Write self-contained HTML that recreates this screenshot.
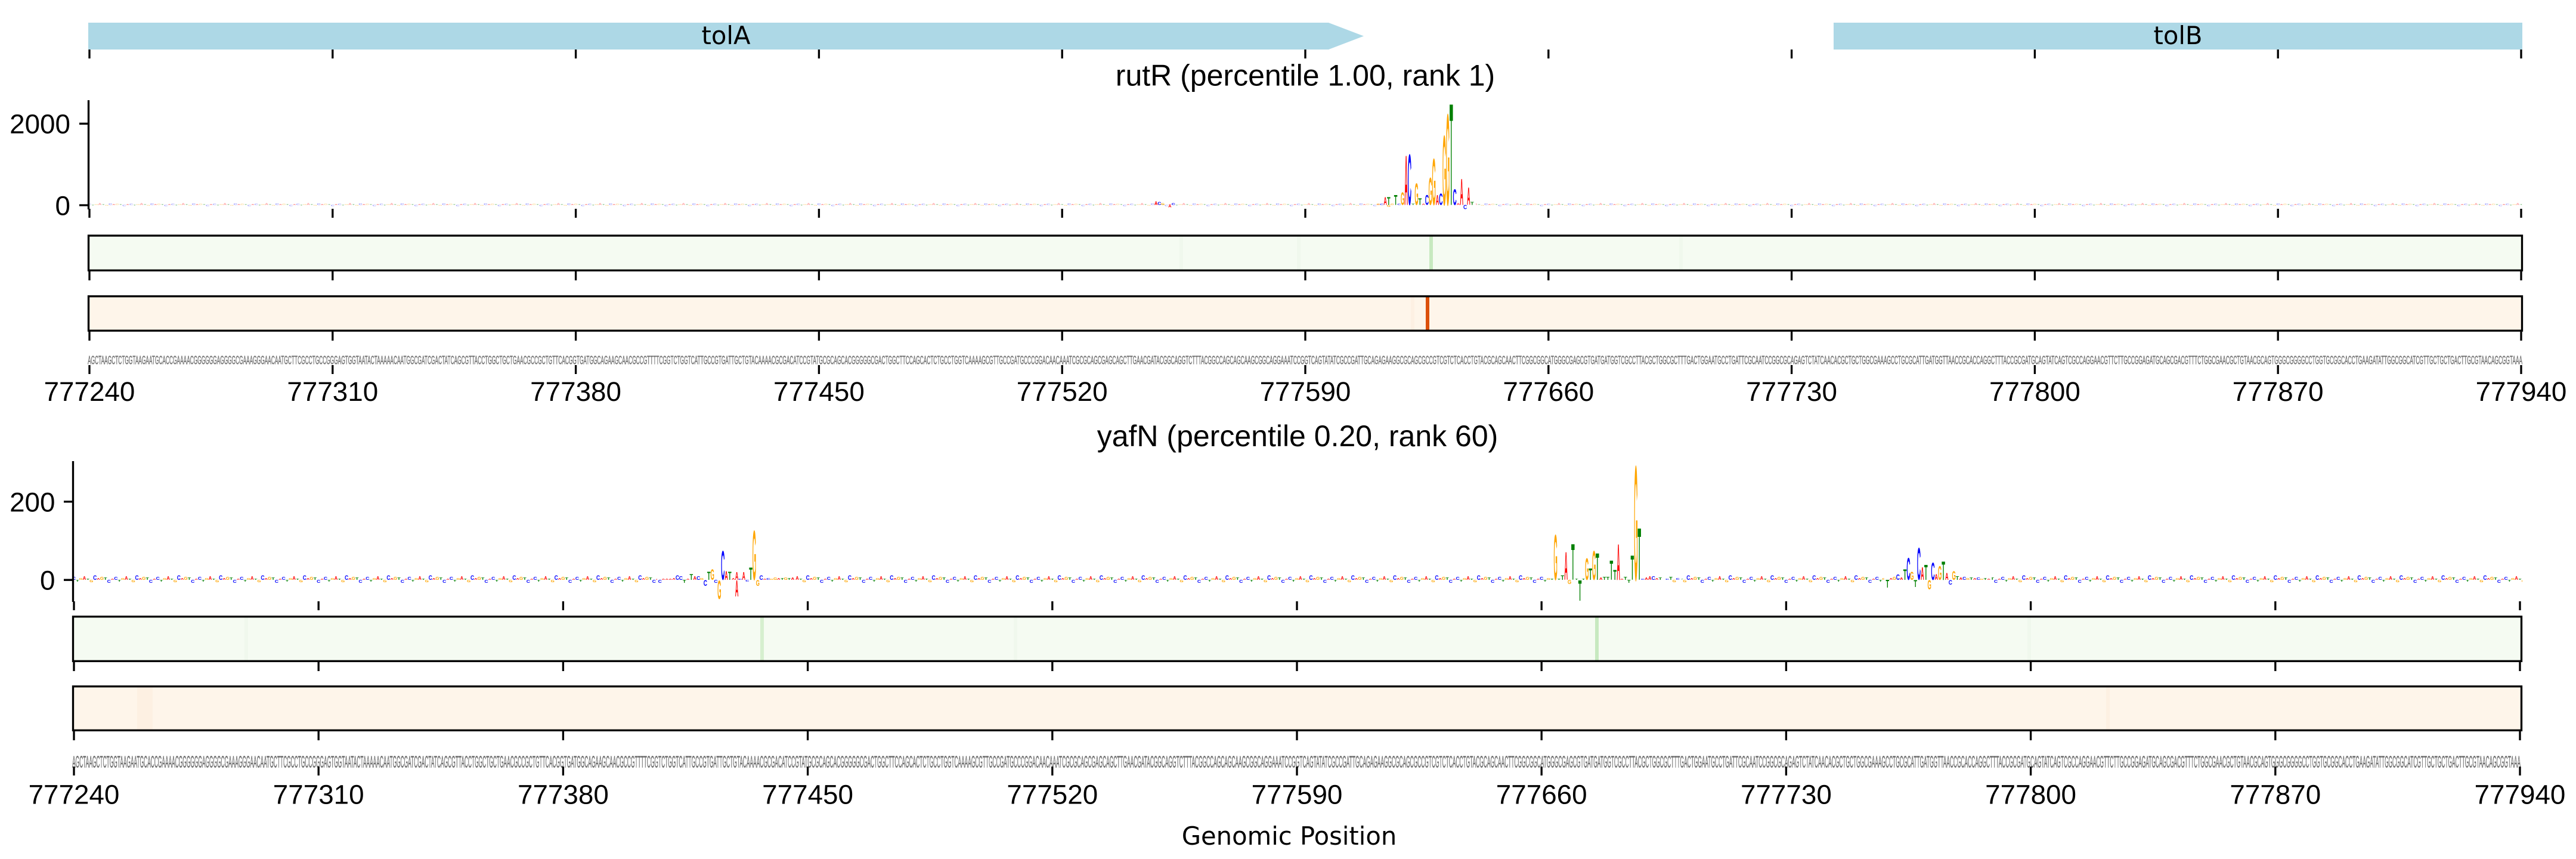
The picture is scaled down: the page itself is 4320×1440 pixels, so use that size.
<!DOCTYPE html>
<html><head><meta charset="utf-8"><style>
html,body{margin:0;padding:0;background:#fff;}
svg{display:block;}
.a{fill:#ff0000}.c{fill:#0000ff}.g{fill:#ffa500}.t{fill:#008000}
</style></head><body>
<svg width="4320" height="1440" viewBox="0 0 4320 1440" xmlns="http://www.w3.org/2000/svg">
<defs>
<pattern id="p1" patternUnits="userSpaceOnUse" x="147.09" y="333.5" width="69.912" height="20">
<g font-family="'Liberation Sans', Arial, sans-serif" font-weight="bold" font-size="100" text-anchor="middle" opacity="0.5">
<text class="c" transform="matrix(.086 0 0 .028 2.913 10)">C</text>
<text class="t" transform="matrix(.093 0 0 .014 8.739 11)">T</text>
<text class="g" transform="matrix(.081 0 0 .021 14.565 10)">G</text>
<text class="a" transform="matrix(.076 0 0 .042 20.391 10)">A</text>
<text class="t" transform="matrix(.093 0 0 .014 26.217 10)">T</text>
<text class="g" transform="matrix(.081 0 0 .021 32.043 11.5)">G</text>
<text class="c" transform="matrix(.086 0 0 .035 37.869 10)">C</text>
<text class="a" transform="matrix(.076 0 0 .014 43.695 10)">A</text>
<text class="g" transform="matrix(.081 0 0 .028 49.521 10)">G</text>
<text class="t" transform="matrix(.093 0 0 .021 55.347 10)">T</text>
<text class="c" transform="matrix(.086 0 0 .028 61.173 12)">C</text>
<text class="a" transform="matrix(.076 0 0 .014 66.999 10)">A</text>
</g>
</pattern>
<pattern id="p2" patternUnits="userSpaceOnUse" x="121.07" y="957" width="70.32" height="30">
<g font-family="'Liberation Sans', Arial, sans-serif" font-weight="bold" font-size="100" text-anchor="middle">
<text class="c" transform="matrix(.086 0 0 .0698 2.93 15)">C</text>
<text class="t" transform="matrix(.093 0 0 .0419 8.79 18)">T</text>
<text class="g" transform="matrix(.081 0 0 .0419 14.65 15)">G</text>
<text class="a" transform="matrix(.076 0 0 .0838 20.51 15)">A</text>
<text class="t" transform="matrix(.093 0 0 .028 26.37 15)">T</text>
<text class="g" transform="matrix(.081 0 0 .0559 32.23 19)">G</text>
<text class="c" transform="matrix(.086 0 0 .1117 38.09 15)">C</text>
<text class="a" transform="matrix(.076 0 0 .0419 43.95 15)">A</text>
<text class="g" transform="matrix(.081 0 0 .0698 49.81 15)">G</text>
<text class="t" transform="matrix(.093 0 0 .0559 55.67 15)">T</text>
<text class="c" transform="matrix(.086 0 0 .0698 61.53 20)">C</text>
<text class="a" transform="matrix(.076 0 0 .028 67.39 15)">A</text>
</g>
</pattern>
</defs>
<rect x="0" y="0" width="4320" height="1440" fill="#ffffff"/>

<!-- ================= PANEL 1 ================= -->
<polygon points="148,38 2228,38 2287,60.5 2228,83 148,83" fill="#add8e6"/>
<rect x="3075" y="38" width="1155" height="45" fill="#add8e6"/>
<g font-family="'DejaVu Sans', 'Liberation Sans', sans-serif" font-size="41.7" text-anchor="middle" fill="#000">
<text x="1217.5" y="74">tolA</text>
<text x="3652.5" y="74">tolB</text>
</g>
<path d="M150 83V98M557.8 83V98M965.6 83V98M1373.4 83V98M1781.2 83V98M2189 83V98M2596.8 83V98M3004.6 83V98M3412.4 83V98M3820.2 83V98M4228 83V98" stroke="#000" stroke-width="3.33" fill="none"/>

<text x="2189" y="143.5" font-family="'Liberation Sans', Arial, sans-serif" font-size="50" text-anchor="middle" fill="#000">rutR (percentile 1.00, rank 1)</text>

<rect x="148" y="333.5" width="2167" height="20" fill="url(#p1)"/>
<rect x="2475" y="333.5" width="1755" height="20" fill="url(#p1)"/>
<path d="M148.5 168V351M133 207.3H148.5M133 344H148.5" stroke="#000" stroke-width="3.33" fill="none"/>
<path d="M150 350V365M557.8 350V365M965.6 350V365M1373.4 350V365M1781.2 350V365M2189 350V365M2596.8 350V365M3004.6 350V365M3412.4 350V365M3820.2 350V365M4228 350V365" stroke="#000" stroke-width="3.33" fill="none"/>
<g font-family="'Liberation Sans', Arial, sans-serif" font-size="45.8" text-anchor="end" fill="#000">
<text x="118" y="223.5">2000</text>
<text x="118" y="360.5">0</text>
</g>
<g font-family="'Liberation Sans', Arial, sans-serif" font-weight="bold" font-size="100" text-anchor="middle">
<text class="a" transform="matrix(.076 0 0 .0838 1938.6 343.5)">A</text>
<text class="c" transform="matrix(.086 0 0 .0698 1944.4 343.5)">C</text>
<text class="g" transform="matrix(.081 0 0 .042 1950.2 343.5)">G</text>
<text class="a" transform="matrix(.076 0 0 .0559 1961.9 347.5)">A</text>
<text class="c" transform="matrix(.086 0 0 .042 1967.7 343.5)">C</text>
<text class="g" transform="matrix(.081 0 0 .028 2311.5 343.5)">G</text>
<text class="c" transform="matrix(.086 0 0 .028 2317.3 343.5)">C</text>
<text class="a" transform="matrix(.076 0 0 .1816 2323.1 343.5)">A</text>
<text class="t" transform="matrix(.093 0 0 .1816 2328.9 343.5)">T</text>
<text class="g" transform="matrix(.081 0 0 .0419 2328.9 346.5)">G</text>
<text class="g" transform="matrix(.081 0 0 .028 2334.8 343.5)">G</text>
<text class="t" transform="matrix(.093 0 0 .2374 2340.6 343.5)">T</text>
<text class="c" transform="matrix(.086 0 0 .028 2346.4 343.5)">C</text>
<text class="g" transform="matrix(.081 0 0 .3073 2352.2 343.5)">G</text>
<text class="a" transform="matrix(.076 0 0 1.1872 2358.1 343.5)">A</text>
<text class="c" transform="matrix(.086 0 0 1.2151 2363.9 343.5)">C</text>
<text class="t" transform="matrix(.093 0 0 .028 2369.7 343.5)">T</text>
<text class="g" transform="matrix(.081 0 0 .5168 2375.5 343.5)">G</text>
<text class="t" transform="matrix(.093 0 0 .1536 2381.4 343.5)">T</text>
<text class="a" transform="matrix(.076 0 0 .028 2387.2 343.5)">A</text>
<text class="c" transform="matrix(.086 0 0 .2374 2393.0 343.5)">C</text>
<text class="g" transform="matrix(.081 0 0 .6564 2398.8 343.5)">G</text>
<text class="g" transform="matrix(.081 0 0 1.1173 2404.7 343.5)">G</text>
<text class="a" transform="matrix(.076 0 0 .2374 2410.5 343.5)">A</text>
<text class="c" transform="matrix(.086 0 0 .2793 2416.3 343.5)">C</text>
<text class="g" transform="matrix(.081 0 0 1.676 2422.1 343.5)">G</text>
<text class="g" transform="matrix(.081 0 0 2.1927 2428.0 343.5)">G</text>
<text class="t" transform="matrix(.093 0 0 2.4441 2433.8 343.5)">T</text>
<text class="c" transform="matrix(.086 0 0 .3771 2439.6 343.5)">C</text>
<text class="a" transform="matrix(.076 0 0 .0419 2445.5 343.5)">A</text>
<text class="a" transform="matrix(.076 0 0 .6285 2451.3 343.5)">A</text>
<text class="c" transform="matrix(.086 0 0 .0978 2457.1 350.5)">C</text>
<text class="a" transform="matrix(.076 0 0 .419 2462.9 343.5)">A</text>
<text class="t" transform="matrix(.093 0 0 .0698 2468.8 343.5)">T</text>
</g>

<!-- green box 1 -->
<rect x="148.5" y="395" width="4081" height="58.3" fill="#f5fbf2"/>
<g fill="#f0f8ed">
<rect x="1978" y="395" width="6" height="58.3"/>
<rect x="2175" y="395" width="6" height="58.3"/>
<rect x="2816" y="395" width="6" height="58.3"/>
</g>
<rect x="2397" y="395" width="6" height="58.3" fill="#c7e9c0"/>
<rect x="148.5" y="395" width="4081" height="58.3" fill="none" stroke="#000" stroke-width="3.33"/>
<path d="M150 455V470M557.8 455V470M965.6 455V470M1373.4 455V470M1781.2 455V470M2189 455V470M2596.8 455V470M3004.6 455V470M3412.4 455V470M3820.2 455V470M4228 455V470" stroke="#000" stroke-width="3.33" fill="none"/>

<!-- orange box 1 -->
<rect x="148.5" y="496.7" width="4081" height="57.6" fill="#fef5ea"/>
<rect x="2366" y="496.7" width="6" height="57.6" fill="#fdf0e3"/>
<rect x="2391" y="496.7" width="6" height="57.6" fill="#dc500c"/>
<rect x="148.5" y="496.7" width="4081" height="57.6" fill="none" stroke="#000" stroke-width="3.33"/>
<path d="M150 556V571M557.8 556V571M965.6 556V571M1373.4 556V571M1781.2 556V571M2189 556V571M2596.8 556V571M3004.6 556V571M3412.4 556V571M3820.2 556V571M4228 556V571" stroke="#000" stroke-width="3.33" fill="none"/>

<!-- sequence 1 -->
<text x="147.1" y="610.7" font-family="'Liberation Sans', Arial, sans-serif" font-size="20.5" fill="#6a6a6a" stroke="#8a8a8a" stroke-width="0.6" textLength="4083" lengthAdjust="spacingAndGlyphs">AGCTAAGCTCTGGTAAGAATGCACCGAAAACGGGGGGAGGGGCGAAAGGGAACAATGCTTCGCCTGCCGGGAGTGGTAATACTAAAAACAATGGCGATCGACTATCAGCGTTACCTGGCTGCTGAACGCCGCTGTTCACGGTGATGGCAGAAGCAACGCCGTTTTCGGTCTGGTCATTGCCGTGATTGCTGTACAAAACGCGACATCCGTATGCGCAGCACGGGGGCGACTGGCTTCCAGCACTCTGCCTGGTCAAAAGCGTTGCCGATGCCCGGACAACAAATCGCGCAGCGAGCAGCTTGAACGATACGGCAGGTCTTTACGGCCAGCAGCAAGCGGCAGGAAATCCGGTCAGTATATCGCCGATTGCAGAGAAGGCGCAGCGCCGTCGTCTCACCTGTACGCAGCAACTTCGGCGGCATGGGCGAGCGTGATGATGGTCGCCTTACGCTGGCGCTTTGACTGGAATGCCTGATTCGCAATCCGGCGCAGAGTCTATCAACACGCTGCTGGCGAAAGCCTGCGCATTGATGGTTAACCGCACCAGGCTTTACCGCGATGCAGTATCAGTCGCCAGGAACGTTCTTGCCGGAGATGCAGCGACGTTTCTGGCGAACGCTGTAACGCAGTGGGCGGGGCCTGGTGCGGCACCTGAAGATATTGGCGGCATCGTTGCTGCTGACTTGCGTAACAGCGGTAAA</text>
<path d="M150 612V627M557.8 612V627M965.6 612V627M1373.4 612V627M1781.2 612V627M2189 612V627M2596.8 612V627M3004.6 612V627M3412.4 612V627M3820.2 612V627M4228 612V627" stroke="#000" stroke-width="3.33" fill="none"/>
<g font-family="'Liberation Sans', Arial, sans-serif" font-size="45.8" text-anchor="middle" fill="#000">
<text x="150" y="672">777240</text>
<text x="557.8" y="672">777310</text>
<text x="965.6" y="672">777380</text>
<text x="1373.4" y="672">777450</text>
<text x="1781.2" y="672">777520</text>
<text x="2189" y="672">777590</text>
<text x="2596.8" y="672">777660</text>
<text x="3004.6" y="672">777730</text>
<text x="3412.4" y="672">777800</text>
<text x="3820.2" y="672">777870</text>
<text x="4228" y="672">777940</text>
</g>

<!-- ================= PANEL 2 ================= -->
<text x="2176" y="748" font-family="'Liberation Sans', Arial, sans-serif" font-size="50" text-anchor="middle" fill="#000">yafN (percentile 0.20, rank 60)</text>

<rect x="122" y="957" width="980" height="30" fill="url(#p2)"/>
<rect x="1334" y="957" width="1266" height="30" fill="url(#p2)"/>
<rect x="2820" y="957" width="340" height="30" fill="url(#p2)"/>
<rect x="3340" y="957" width="890" height="30" fill="url(#p2)"/>
<path d="M122.5 773V1009M107 841H122.5M107 972.2H122.5" stroke="#000" stroke-width="3.33" fill="none"/>
<path d="M124 1008V1023M534.2 1008V1023M944.4 1008V1023M1354.6 1008V1023M1764.8 1008V1023M2175 1008V1023M2585.2 1008V1023M2995.4 1008V1023M3405.6 1008V1023M3815.8 1008V1023M4226 1008V1023" stroke="#000" stroke-width="3.33" fill="none"/>
<g font-family="'Liberation Sans', Arial, sans-serif" font-size="45.8" text-anchor="end" fill="#000">
<text x="92.5" y="857.3">200</text>
<text x="92.5" y="988.6">0</text>
</g>
<g font-family="'Liberation Sans', Arial, sans-serif" font-weight="bold" font-size="100" text-anchor="middle">
<!-- cluster 1 -->
<text class="c" transform="matrix(.086 0 0 .0698 1106.7 977.2)">C</text>
<text class="a" transform="matrix(.076 0 0 .028 1112.5 972.2)">A</text>
<text class="a" transform="matrix(.076 0 0 .028 1118.4 972.2)">A</text>
<text class="a" transform="matrix(.076 0 0 .028 1124.2 972.2)">A</text>
<text class="a" transform="matrix(.076 0 0 .0419 1130.1 972.2)">A</text>
<text class="c" transform="matrix(.086 0 0 .1117 1136.0 972.2)">C</text>
<text class="c" transform="matrix(.086 0 0 .0838 1141.8 972.2)">C</text>
<text class="t" transform="matrix(.093 0 0 .0698 1147.7 977.2)">T</text>
<text class="a" transform="matrix(.076 0 0 .028 1153.6 972.2)">A</text>
<text class="t" transform="matrix(.093 0 0 .1397 1159.4 972.2)">T</text>
<text class="a" transform="matrix(.076 0 0 .0838 1165.3 972.2)">A</text>
<text class="c" transform="matrix(.086 0 0 .0838 1171.2 972.2)">C</text>
<text class="g" transform="matrix(.081 0 0 .0419 1177.0 972.2)">G</text>
<text class="c" transform="matrix(.086 0 0 .1397 1182.9 982.2)">C</text>
<text class="t" transform="matrix(.093 0 0 .1955 1188.7 972.2)">T</text>
<text class="g" transform="matrix(.081 0 0 .2514 1194.6 972.2)">G</text>
<text class="c" transform="matrix(.086 0 0 .0698 1200.5 977.2)">C</text>
<text class="g" transform="matrix(.081 0 0 .4469 1206.3 1004.2)">G</text>
<text class="c" transform="matrix(.086 0 0 .6983 1212.2 972.2)">C</text>
<text class="a" transform="matrix(.076 0 0 .2095 1218.0 972.2)">A</text>
<text class="t" transform="matrix(.093 0 0 .1955 1223.9 972.2)">T</text>
<text class="a" transform="matrix(.076 0 0 .0419 1229.8 972.2)">A</text>
<text class="a" transform="matrix(.076 0 0 .1816 1235.6 972.2)">A</text>
<text class="a" transform="matrix(.076 0 0 .3911 1235.6 1000.2)">A</text>
<text class="c" transform="matrix(.086 0 0 .028 1241.5 972.2)">C</text>
<text class="a" transform="matrix(.076 0 0 .1816 1247.3 972.2)">A</text>
<text class="c" transform="matrix(.086 0 0 .0419 1253.2 975.2)">C</text>
<text class="t" transform="matrix(.093 0 0 .2933 1259.1 972.2)">T</text>
<text class="g" transform="matrix(.081 0 0 1.1872 1264.9 972.2)">G</text>
<text class="g" transform="matrix(.081 0 0 .1397 1270.8 982.2)">G</text>
<text class="c" transform="matrix(.086 0 0 .1117 1276.6 972.2)">C</text>
<text class="a" transform="matrix(.076 0 0 .028 1282.5 972.2)">A</text>
<text class="c" transform="matrix(.086 0 0 .0419 1288.4 972.2)">C</text>
<text class="g" transform="matrix(.081 0 0 .028 1294.2 972.2)">G</text>
<text class="g" transform="matrix(.081 0 0 .0559 1300.1 972.2)">G</text>
<text class="a" transform="matrix(.076 0 0 .0419 1305.9 972.2)">A</text>
<text class="t" transform="matrix(.093 0 0 .0419 1311.8 972.2)">T</text>
<text class="g" transform="matrix(.081 0 0 .0559 1317.6 972.2)">G</text>
<text class="t" transform="matrix(.093 0 0 .0419 1323.5 972.2)">T</text>
<text class="a" transform="matrix(.076 0 0 .0559 1329.4 972.2)">A</text>
<!-- cluster 2 -->
<text class="t" transform="matrix(.093 0 0 .028 2602.7 972.2)">T</text>
<text class="g" transform="matrix(.081 0 0 1.0894 2608.6 972.2)">G</text>
<text class="t" transform="matrix(.093 0 0 .028 2614.5 972.2)">T</text>
<text class="t" transform="matrix(.093 0 0 .1117 2620.3 972.2)">T</text>
<text class="a" transform="matrix(.076 0 0 .6704 2626.2 972.2)">A</text>
<text class="g" transform="matrix(.081 0 0 .0978 2632.0 979.2)">G</text>
<text class="t" transform="matrix(.093 0 0 .8659 2637.9 972.2)">T</text>
<text class="t" transform="matrix(.093 0 0 .028 2643.8 972.2)">T</text>
<text class="t" transform="matrix(.093 0 0 .4888 2649.6 1007.2)">T</text>
<text class="t" transform="matrix(.093 0 0 .028 2655.5 972.2)">T</text>
<text class="g" transform="matrix(.081 0 0 .5168 2661.3 972.2)">G</text>
<text class="t" transform="matrix(.093 0 0 .2793 2667.2 972.2)">T</text>
<text class="g" transform="matrix(.081 0 0 .6983 2673.1 972.2)">G</text>
<text class="t" transform="matrix(.093 0 0 .6425 2678.9 972.2)">T</text>
<text class="a" transform="matrix(.076 0 0 .0559 2684.8 972.2)">A</text>
<text class="t" transform="matrix(.093 0 0 .0698 2690.6 972.2)">T</text>
<text class="t" transform="matrix(.093 0 0 .0698 2696.5 972.2)">T</text>
<text class="t" transform="matrix(.093 0 0 .4609 2702.4 972.2)">T</text>
<text class="t" transform="matrix(.093 0 0 .2374 2708.2 972.2)">T</text>
<text class="a" transform="matrix(.076 0 0 .8659 2714.1 972.2)">A</text>
<text class="a" transform="matrix(.076 0 0 .028 2720.0 972.2)">A</text>
<text class="t" transform="matrix(.093 0 0 .0698 2725.8 972.2)">T</text>
<text class="t" transform="matrix(.093 0 0 .0698 2731.7 977.2)">T</text>
<text class="t" transform="matrix(.093 0 0 .5866 2737.5 972.2)">T</text>
<text class="g" transform="matrix(.081 0 0 2.7514 2743.4 972.2)">G</text>
<text class="t" transform="matrix(.093 0 0 1.243 2749.2 972.2)">T</text>
<text class="c" transform="matrix(.086 0 0 .028 2755.1 972.2)">C</text>
<text class="a" transform="matrix(.076 0 0 .0559 2761.0 972.2)">A</text>
<text class="a" transform="matrix(.076 0 0 .0838 2766.8 972.2)">A</text>
<text class="c" transform="matrix(.086 0 0 .0838 2772.7 972.2)">C</text>
<text class="a" transform="matrix(.076 0 0 .0419 2778.5 972.2)">A</text>
<text class="t" transform="matrix(.093 0 0 .0559 2784.4 972.2)">T</text>
<text class="c" transform="matrix(.086 0 0 .028 2796.1 972.2)">C</text>
<text class="t" transform="matrix(.093 0 0 .0698 2802.0 972.2)">T</text>
<text class="g" transform="matrix(.081 0 0 .0559 2807.8 976.2)">G</text>
<text class="c" transform="matrix(.086 0 0 .0419 2813.7 972.2)">C</text>
<!-- cluster 3 -->
<text class="t" transform="matrix(.093 0 0 .1816 3165.3 985.2)">T</text>
<text class="a" transform="matrix(.076 0 0 .0419 3171.2 972.2)">A</text>
<text class="g" transform="matrix(.081 0 0 .0698 3177.0 972.2)">G</text>
<text class="c" transform="matrix(.086 0 0 .1257 3182.9 972.2)">C</text>
<text class="a" transform="matrix(.076 0 0 .0559 3188.7 972.2)">A</text>
<text class="t" transform="matrix(.093 0 0 .2514 3194.6 972.2)">T</text>
<text class="c" transform="matrix(.086 0 0 .5307 3200.5 972.2)">C</text>
<text class="g" transform="matrix(.081 0 0 .1955 3206.3 972.2)">G</text>
<text class="t" transform="matrix(.093 0 0 .1676 3212.2 984.2)">T</text>
<text class="c" transform="matrix(.086 0 0 .7682 3218.0 972.2)">C</text>
<text class="a" transform="matrix(.076 0 0 .3073 3223.9 972.2)">A</text>
<text class="t" transform="matrix(.093 0 0 .3631 3229.8 972.2)">T</text>
<text class="g" transform="matrix(.081 0 0 .2235 3235.6 988.2)">G</text>
<text class="c" transform="matrix(.086 0 0 .419 3241.5 972.2)">C</text>
<text class="a" transform="matrix(.076 0 0 .1397 3247.3 972.2)">A</text>
<text class="g" transform="matrix(.081 0 0 .3352 3253.2 972.2)">G</text>
<text class="t" transform="matrix(.093 0 0 .4469 3259.1 972.2)">T</text>
<text class="a" transform="matrix(.076 0 0 .1676 3264.9 972.2)">A</text>
<text class="c" transform="matrix(.086 0 0 .1117 3270.8 980.2)">C</text>
<text class="g" transform="matrix(.081 0 0 .2095 3276.6 972.2)">G</text>
<text class="t" transform="matrix(.093 0 0 .0838 3282.5 972.2)">T</text>
<text class="a" transform="matrix(.076 0 0 .0559 3288.4 972.2)">A</text>
<text class="c" transform="matrix(.086 0 0 .0698 3294.2 972.2)">C</text>
<text class="g" transform="matrix(.081 0 0 .0419 3300.1 972.2)">G</text>
<text class="t" transform="matrix(.093 0 0 .0559 3305.9 972.2)">T</text>
<text class="a" transform="matrix(.076 0 0 .0419 3311.8 972.2)">A</text>
<text class="c" transform="matrix(.086 0 0 .0559 3317.7 972.2)">C</text>
<text class="g" transform="matrix(.081 0 0 .028 3323.5 972.2)">G</text>
<text class="t" transform="matrix(.093 0 0 .0419 3329.4 972.2)">T</text>
<text class="a" transform="matrix(.076 0 0 .028 3335.2 972.2)">A</text>
</g>

<!-- green box 2 -->
<rect x="122.5" y="1033.7" width="4106" height="74.6" fill="#f5fbf2"/>
<g fill="#f0f8ed">
<rect x="410" y="1033.7" width="6" height="74.6"/>
<rect x="1700" y="1033.7" width="6" height="74.6"/>
<rect x="3400" y="1033.7" width="6" height="74.6"/>
</g>
<rect x="1275" y="1033.7" width="6" height="74.6" fill="#d6efcf"/>
<rect x="2675" y="1033.7" width="6" height="74.6" fill="#c7e9c0"/>
<rect x="122.5" y="1033.7" width="4106" height="74.6" fill="none" stroke="#000" stroke-width="3.33"/>
<path d="M124 1110V1125M534.2 1110V1125M944.4 1110V1125M1354.6 1110V1125M1764.8 1110V1125M2175 1110V1125M2585.2 1110V1125M2995.4 1110V1125M3405.6 1110V1125M3815.8 1110V1125M4226 1110V1125" stroke="#000" stroke-width="3.33" fill="none"/>

<!-- orange box 2 -->
<rect x="122.5" y="1150.7" width="4106" height="73.6" fill="#fef5ea"/>
<g fill="#fdf0e2">
<rect x="230" y="1150.7" width="26" height="73.6"/>
<rect x="3532" y="1150.7" width="6" height="73.6"/>
</g>
<rect x="122.5" y="1150.7" width="4106" height="73.6" fill="none" stroke="#000" stroke-width="3.33"/>
<path d="M124 1226V1241M534.2 1226V1241M944.4 1226V1241M1354.6 1226V1241M1764.8 1226V1241M2175 1226V1241M2585.2 1226V1241M2995.4 1226V1241M3405.6 1226V1241M3815.8 1226V1241M4226 1226V1241" stroke="#000" stroke-width="3.33" fill="none"/>

<!-- sequence 2 -->
<text x="121.1" y="1286.5" font-family="'Liberation Sans', Arial, sans-serif" font-size="28" fill="#6a6a6a" stroke="#8a8a8a" stroke-width="0.7" textLength="4106" lengthAdjust="spacingAndGlyphs">AGCTAAGCTCTGGTAAGAATGCACCGAAAACGGGGGGAGGGGCGAAAGGGAACAATGCTTCGCCTGCCGGGAGTGGTAATACTAAAAACAATGGCGATCGACTATCAGCGTTACCTGGCTGCTGAACGCCGCTGTTCACGGTGATGGCAGAAGCAACGCCGTTTTCGGTCTGGTCATTGCCGTGATTGCTGTACAAAACGCGACATCCGTATGCGCAGCACGGGGGCGACTGGCTTCCAGCACTCTGCCTGGTCAAAAGCGTTGCCGATGCCCGGACAACAAATCGCGCAGCGAGCAGCTTGAACGATACGGCAGGTCTTTACGGCCAGCAGCAAGCGGCAGGAAATCCGGTCAGTATATCGCCGATTGCAGAGAAGGCGCAGCGCCGTCGTCTCACCTGTACGCAGCAACTTCGGCGGCATGGGCGAGCGTGATGATGGTCGCCTTACGCTGGCGCTTTGACTGGAATGCCTGATTCGCAATCCGGCGCAGAGTCTATCAACACGCTGCTGGCGAAAGCCTGCGCATTGATGGTTAACCGCACCAGGCTTTACCGCGATGCAGTATCAGTCGCCAGGAACGTTCTTGCCGGAGATGCAGCGACGTTTCTGGCGAACGCTGTAACGCAGTGGGCGGGGCCTGGTGCGGCACCTGAAGATATTGGCGGCATCGTTGCTGCTGACTTGCGTAACAGCGGTAAA</text>
<path d="M124 1285V1300M534.2 1285V1300M944.4 1285V1300M1354.6 1285V1300M1764.8 1285V1300M2175 1285V1300M2585.2 1285V1300M2995.4 1285V1300M3405.6 1285V1300M3815.8 1285V1300M4226 1285V1300" stroke="#000" stroke-width="3.33" fill="none"/>
<g font-family="'Liberation Sans', Arial, sans-serif" font-size="45.8" text-anchor="middle" fill="#000">
<text x="124" y="1347.5">777240</text>
<text x="534.2" y="1347.5">777310</text>
<text x="944.4" y="1347.5">777380</text>
<text x="1354.6" y="1347.5">777450</text>
<text x="1764.8" y="1347.5">777520</text>
<text x="2175" y="1347.5">777590</text>
<text x="2585.2" y="1347.5">777660</text>
<text x="2995.4" y="1347.5">777730</text>
<text x="3405.6" y="1347.5">777800</text>
<text x="3815.8" y="1347.5">777870</text>
<text x="4226" y="1347.5">777940</text>
</g>
<text x="2162" y="1416" font-family="'DejaVu Sans', 'Liberation Sans', sans-serif" font-size="41.7" text-anchor="middle" fill="#000">Genomic Position</text>
</svg>
</body></html>
